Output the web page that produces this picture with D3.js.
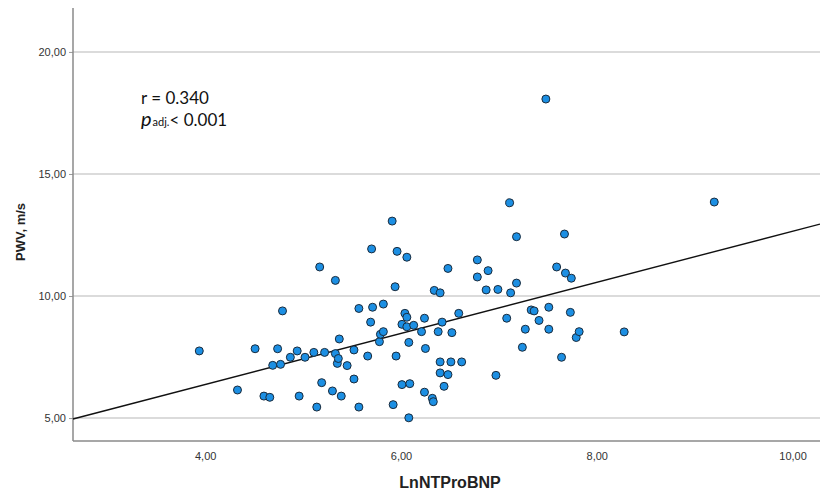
<!DOCTYPE html>
<html>
<head>
<meta charset="utf-8">
<script src="https://cdn.jsdelivr.net/npm/d3@7"></script>
<style>
  html, body { margin: 0; padding: 0; background: #fff; }
  svg { display: block; }
</style>
</head>
<body>
<svg id="chart" width="820" height="492"></svg>
<script>
// Data
const lnNTProBNP = [3.94,4.33,4.51,4.60,4.66,4.69,4.74,4.77,4.79,4.87,4.94,4.96,5.02,5.11,5.14,5.17,5.19,5.22,5.30,5.33,5.33,5.35,5.36,5.37,5.39,5.45,5.52,5.52,5.57,5.57,5.66,5.69,5.70,5.71,5.78,5.79,5.82,5.82,5.91,5.92,5.95,5.94,5.96,6.01,6.01,6.04,6.06,6.06,6.06,6.08,6.08,6.09,6.13,6.21,6.24,6.24,6.25,6.32,6.33,6.34,6.38,6.40,6.40,6.40,6.42,6.44,6.48,6.48,6.51,6.52,6.59,6.62,6.78,6.78,6.87,6.89,6.97,6.99,7.08,7.11,7.12,7.18,7.18,7.24,7.27,7.33,7.36,7.41,7.48,7.51,7.51,7.59,7.64,7.67,7.68,7.73,7.74,7.79,7.82,8.28,9.20];
const pwv = [7.75,6.15,7.84,5.90,5.85,7.16,7.84,7.20,9.39,7.49,7.75,5.90,7.49,7.69,5.45,11.19,6.45,7.69,6.11,7.64,10.64,7.24,7.44,8.24,5.90,7.15,7.79,6.60,9.49,5.45,7.54,8.93,11.93,9.54,8.13,8.43,8.54,9.67,13.07,5.55,7.54,10.38,11.83,6.37,8.84,9.29,11.59,9.13,8.74,5.01,8.10,6.41,8.80,8.54,9.09,6.06,7.85,5.81,5.67,10.23,8.54,7.30,6.85,10.13,8.93,6.30,6.78,11.13,7.30,8.50,9.29,7.30,11.48,10.78,10.25,11.04,6.75,10.27,9.09,13.82,10.13,10.53,12.43,7.90,8.64,9.43,9.39,9.00,18.07,9.54,8.64,11.19,7.49,12.54,10.94,9.33,10.73,8.30,8.54,8.53,13.85];
const xTicks = [4, 6, 8, 10];
const yTicks = [5, 10, 15, 20];
const xDomain = [2.65, 10.28];
const yDomain = [4.06, 21.8];
const fitIntercept = 2.185;
const fitSlope = 1.047;
const xTitle = "LnNTProBNP";
const yTitle = "PWV, m/s";

const svg = d3.select("#chart");
const mLeft = 73, mRight = 820, mTop = 8, mBottom = 441;

const x = d3.scaleLinear().domain(xDomain).range([mLeft, mRight]);
const y = d3.scaleLinear().domain(yDomain).range([mBottom, mTop]);
const fmt = d => d.toFixed(2).replace(".", ",");

// gridlines
svg.append("g")
  .selectAll("line").data(yTicks).join("line")
  .attr("x1", mLeft).attr("x2", mRight)
  .attr("y1", d => y(d)).attr("y2", d => y(d))
  .attr("stroke", "#cfcfcf").attr("stroke-width", 1.5);

// y axis
const yAxis = svg.append("g")
  .attr("transform", `translate(${mLeft},0)`)
  .call(d3.axisLeft(y).tickValues(yTicks).tickFormat(fmt).tickSize(4).tickPadding(3));
yAxis.select(".domain").remove();
yAxis.selectAll(".tick line").attr("stroke", "#999");
yAxis.selectAll("text").attr("font-family", "Liberation Sans, Arial, sans-serif")
  .attr("font-size", 11).attr("fill", "#333");

// x axis
const xAxis = svg.append("g")
  .attr("transform", `translate(0,${mBottom})`)
  .call(d3.axisBottom(x).tickValues(xTicks).tickFormat(fmt).tickSize(0).tickPadding(11));
xAxis.select(".domain").remove();
xAxis.selectAll("text").attr("font-family", "Liberation Sans, Arial, sans-serif")
  .attr("font-size", 11).attr("fill", "#333");

// axis lines
svg.append("line").attr("x1", mLeft).attr("x2", mLeft).attr("y1", mTop).attr("y2", mBottom)
  .attr("stroke", "#8a8a8a").attr("stroke-width", 1.5);
svg.append("line").attr("x1", mLeft).attr("x2", mRight).attr("y1", mBottom).attr("y2", mBottom)
  .attr("stroke", "#8a8a8a").attr("stroke-width", 1.5);

// fit line
const fitX = [xDomain[0], xDomain[1]];
svg.append("line")
  .attr("x1", x(fitX[0])).attr("y1", y(fitIntercept + fitSlope * fitX[0]))
  .attr("x2", x(fitX[1])).attr("y2", y(fitIntercept + fitSlope * fitX[1]))
  .attr("stroke", "#111").attr("stroke-width", 1.4);

// points
svg.append("g")
  .selectAll("circle").data(lnNTProBNP.map((v, i) => [v, pwv[i]])).join("circle")
  .attr("cx", d => x(d[0])).attr("cy", d => y(d[1])).attr("r", 4)
  .attr("fill", "#1c8fe3").attr("stroke", "#1a2b3c").attr("stroke-width", 1);

// axis titles
svg.append("text").attr("x", 450).attr("y", 488).attr("text-anchor", "middle")
  .attr("font-family", "Liberation Sans, Arial, sans-serif").attr("font-weight", "bold")
  .attr("font-size", 16).attr("fill", "#222").text(xTitle);
svg.append("text").attr("transform", "translate(25,232) rotate(-90)").attr("text-anchor", "middle")
  .attr("font-family", "Liberation Sans, Arial, sans-serif").attr("font-weight", "bold")
  .attr("font-size", 13).attr("fill", "#222").text(yTitle);

// annotation
const ann = svg.append("g").attr("font-family", "Lato, 'Open Sans', sans-serif").attr("fill", "#111");
ann.append("text").attr("x", 141).attr("y", 104).attr("font-size", 17).text("r = 0.340");
const t2 = ann.append("text").attr("x", 141).attr("y", 126).attr("font-size", 17);
t2.append("tspan").attr("font-style", "italic").attr("font-size", 20).text("p");
t2.append("tspan").attr("font-size", 11).attr("dx", 1).text("adj.");
t2.append("tspan").attr("font-size", 17).text("< 0.001");
</script>
</body>
</html>
